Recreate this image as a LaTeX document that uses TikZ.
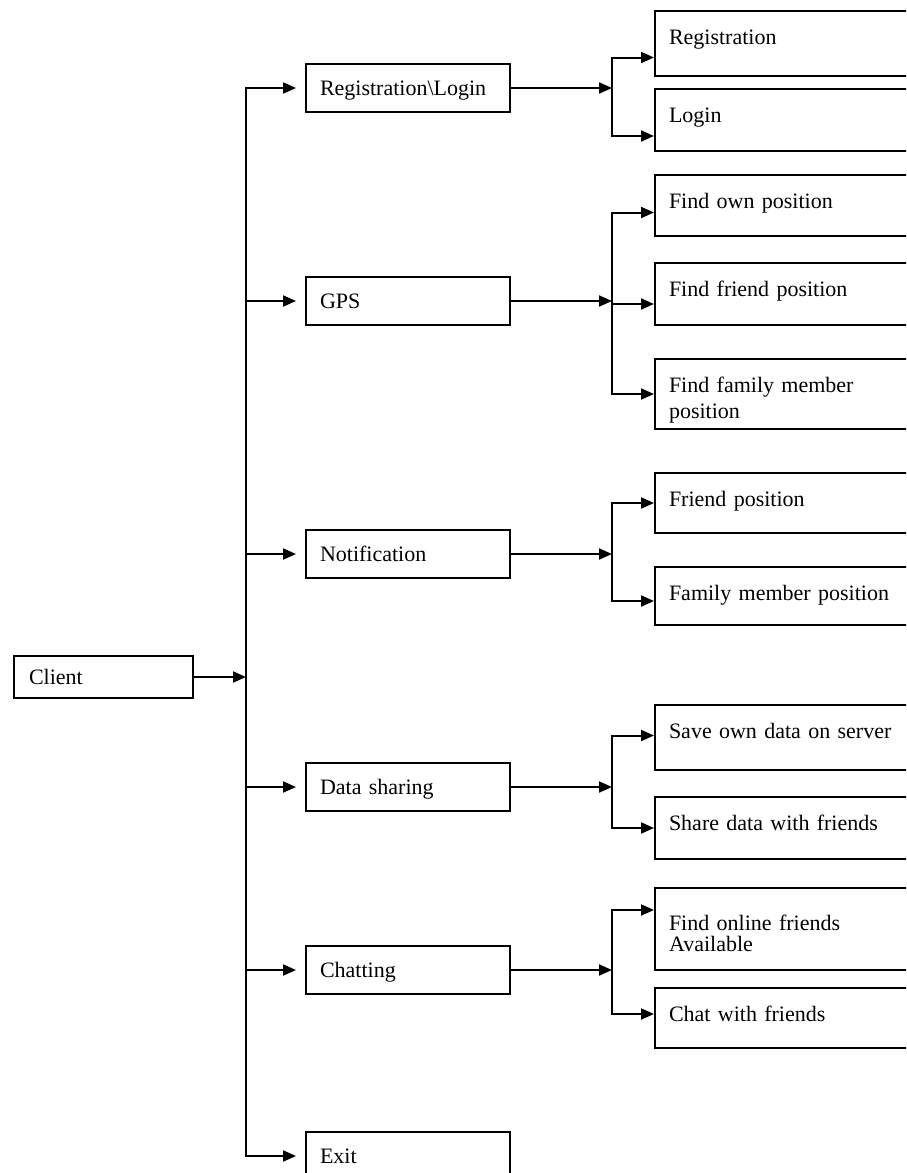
\documentclass[tikz,border=0pt]{standalone}
\usepackage{fontspec}
\setmainfont{Liberation Serif}
\usetikzlibrary{arrows.meta}

\begin{document}
\begin{tikzpicture}[x=1pt,y=-1pt,line width=2pt,
  font=\fontsize{22}{26}\selectfont,
  arr/.style={-{Triangle[length=13pt,width=11pt]}},
  menu/.style={draw,anchor=north west,minimum width=204pt,minimum height=48pt,
    text width=176pt,inner xsep=14pt,align=left,text height=14pt,text depth=0pt},
  leaf/.style={draw,anchor=north west,text width=280pt,inner xsep=14pt,inner ysep=0pt,
    align=left,text height=33pt,text depth=#1}]
\useasboundingbox (0,0) rectangle (906,1173);
\clip (0,0) rectangle (906,1173);

\node[draw,anchor=north west,minimum width=179pt,minimum height=42pt,text width=149pt,
  inner xsep=15pt,align=left,text height=14pt,text depth=0pt] (client) at (13,655) {Client};

\node[menu] (reglog) at (305,63) {Registration\textbackslash Login};
\node[menu] (gps) at (305,276) {GPS};
\node[menu] (notif) at (305,529) {Notification};
\node[menu] (share) at (305,762) {Data sharing};
\node[menu] (chat) at (305,945) {Chatting};
\node[menu] (exit) at (305,1131) {Exit};

\node[leaf=32pt] (reg) at (654,10) {Registration};
\node[leaf=29pt] (login) at (654,88) {Login};
\node[leaf=28pt] (ownpos) at (654,174) {Find own position};
\node[leaf=29pt] (friendpos) at (654,262) {Find friend position};
\node[leaf=37pt] (familypos) at (654,358) {Find family member\\position};
\node[leaf=27pt] (notfriend) at (654,472) {Friend position};
\node[leaf=25pt] (notfamily) at (654,566) {Family member position};
\node[leaf=32pt] (savedata) at (654,704) {Save own data on server};
\node[leaf=29pt] (sharedata) at (654,796) {Share data with friends};
\node[leaf=40pt,text height=42pt] (online) at (654,887) {Find online friends\\[-5pt]Available};
\node[leaf=27pt] (chatfriend) at (654,987) {Chat with friends};

%---------------------------------------------------------------------------------------------------
\coordinate (trunk) at (246,0);
\coordinate (fork) at (612,0);

\draw[arr] (client) -- (client -| trunk);
\draw[line cap=rect] (reglog -| trunk) -- (exit -| trunk);
\foreach \m in {reglog,gps,notif,share,chat,exit}
  \draw[arr,shorten >=9pt] (\m -| trunk) -- (\m);

\foreach \m in {reglog,gps,notif,share,chat}
  \draw[arr] (\m) -- (\m -| fork);

\foreach \leaf/\dy in {reg/-14,login/-16,ownpos/-7,friendpos/-10,familypos/0,notfriend/0,
    notfamily/-5,savedata/2,sharedata/0,online/19,chatfriend/4} {
  \coordinate (\leaf-in) at ([yshift=\dy pt]\leaf.west);
  \draw[arr] (\leaf-in -| fork) -- (\leaf-in);
}

\draw[line cap=rect] (reg-in -| fork) -- (login-in -| fork);
\draw[line cap=rect] (ownpos-in -| fork) -- (familypos-in -| fork);
\draw[line cap=rect] (notfriend-in -| fork) -- (notfamily-in -| fork);
\draw[line cap=rect] (savedata-in -| fork) -- (sharedata-in -| fork);
\draw[line cap=rect] (online-in -| fork) -- (chatfriend-in -| fork);
\end{tikzpicture}
\end{document}
